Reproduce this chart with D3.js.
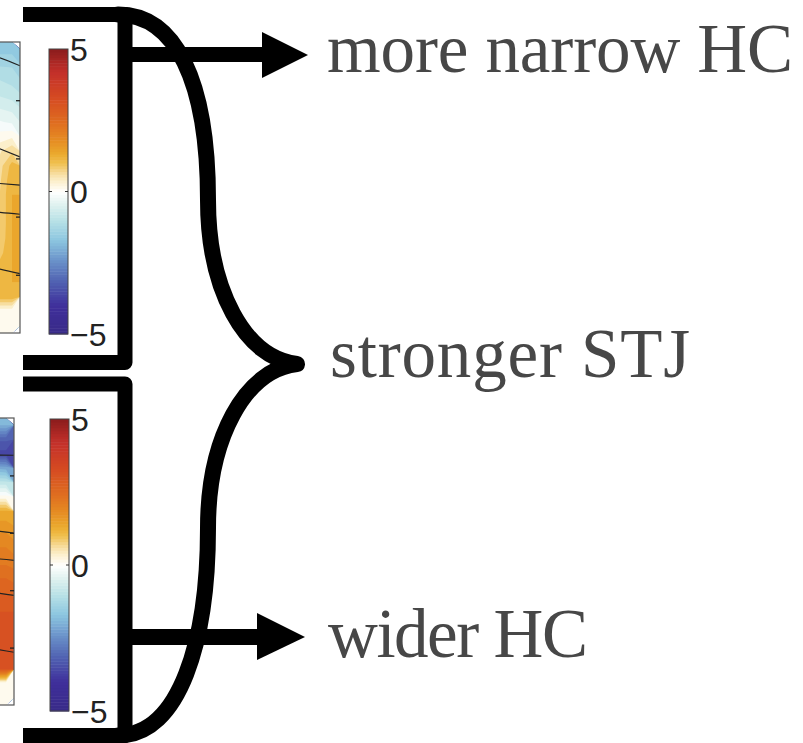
<!DOCTYPE html>
<html>
<head>
<meta charset="utf-8">
<script src="https://cdn.jsdelivr.net/npm/d3@7"></script>
<style>
  html, body { margin: 0; padding: 0; background: #fff; }
  svg { display: block; }
</style>
</head>
<body>
<svg id="fig" width="803" height="743"></svg>
<script>
// ---- colour map (anomaly, m/s) ----
const cbStops  = [-5, -4, -3.2, -2.4, -1.7, -1.0, -0.4, 0, 0.4, 0.7, 1.0, 1.3, 1.8, 2.5, 3.3, 4.2, 5];
const cbColors = ["#382a87", "#3f2f9b", "#4f5fb0", "#6b93ca", "#8cc6df", "#b9e2e6", "#e3f3f1", "#ffffff",
                  "#fbeec8", "#f6d893", "#f0c050", "#ebab2e", "#e58c22", "#de6a20", "#d54a22", "#c3302a", "#8b1c1c"];
const cbTicks  = [5, 0, -5];
const levelStep = 0.25;

// ---- vertical levels (hPa, band centres) ----
const levels = [25, 75, 125, 175, 225, 275, 325, 375, 425, 475, 525, 575, 625, 675, 725, 775, 825, 875, 925, 975];
const axisTicks = [200, 400, 600, 800];

// ---- filled field, upper panel: one row per level, three latitude columns ----
const fieldUpper = [
  [-1.6, -1.6, -1.6], [-1.3, -1.3, -1.3], [-1.0, -1.0, -1.1], [-0.8, -0.8, -0.9],
  [-0.5, -0.5, -0.6], [-0.2, -0.2, -0.3], [0.1, 0.1, 0.2],    [0.4, 0.4, 0.7],
  [0.5, 0.5, 1.1],    [0.55, 0.55, 1.2],  [0.6, 0.6, 1.25],   [0.6, 0.6, 1.25],
  [0.6, 0.6, 1.25],   [0.65, 0.65, 1.25], [0.8, 0.8, 1.25],   [1.0, 1.0, 1.25],
  [1.15, 1.15, 1.25], [1.2, 1.2, 1.2],    [0.05, 0.05, 0.05], [0.0, 0.0, 0.0]
];
// ---- filled field, lower panel ----
const fieldLower = [
  [-2.0, -2.0, -2.0], [-3.2, -3.2, -3.2], [-3.6, -3.6, -3.6], [-2.0, -2.0, -2.1],
  [-0.9, -0.9, -0.9], [0.1, 0.1, 0.1],    [1.3, 1.3, 1.3],    [1.6, 1.6, 1.6],
  [1.9, 1.9, 1.9],    [2.1, 2.1, 2.1],    [2.3, 2.3, 2.3],    [2.6, 2.6, 2.6],
  [2.8, 2.8, 2.8],    [3.0, 3.0, 3.0],    [3.1, 3.1, 3.1],    [3.1, 3.1, 3.1],
  [3.1, 3.1, 3.1],    [3.0, 3.0, 3.0],    [0.0, 0.0, 0.0],    [0.0, 0.0, 0.0]
];
// ---- climatology contour lines: pressure of each line at left edge, middle and right frame ----
const linesUpper = [[30, 50, 82], [330, 362, 395], [478, 485, 492], [574, 584, 592], [755, 777, 796]];
const linesLower = [[129, 129, 130], [375, 390, 401], [478, 488, 496], [592, 606, 618], [780, 801, 816]];

// ---- annotation labels ----
const labels = ["more narrow HC", "stronger STJ", "wider HC"];

// ---------------------------------------------------------------
const svg = d3.select("#fig");
const cmap = d3.scaleLinear().domain(cbStops).range(cbColors).clamp(true);
const thresholds = d3.range(-5, 5 + 1e-9, levelStep);

const panels = [
  { field: fieldUpper, lines: linesUpper, plot: { right: 20, top: 42, bottom: 333 },
    bar: { x: 49, w: 19, top: 49, bottom: 334 } },
  { field: fieldLower, lines: linesLower, plot: { right: 14, top: 418, bottom: 705 },
    bar: { x: 50, w: 19, top: 419, bottom: 711 } }
];

panels.forEach((P, k) => {
  const nCols = P.field[0].length, nRows = P.field.length;
  const px = P.plot;
  // column index -> pixels (left columns run off the page)
  const xg = d3.scaleLinear().domain([0, nCols]).range([px.right - 48, px.right]);
  const yP = d3.scaleLinear().domain([0, 1000]).range([px.top, px.bottom]);
  const yg = d3.scaleLinear().domain([0, nRows]).range([yP(0), yP(1000)]);

  const clipId = "clip" + k;
  svg.append("clipPath").attr("id", clipId)
    .append("rect").attr("x", -10).attr("y", px.top).attr("width", px.right + 10).attr("height", px.bottom - px.top);

  const g = svg.append("g").attr("clip-path", `url(#${clipId})`);
  g.append("rect").attr("x", -10).attr("y", px.top).attr("width", px.right + 10)
    .attr("height", px.bottom - px.top).attr("fill", "#fff");

  const values = P.field.flat();
  const contours = d3.contours().size([nCols, nRows]).thresholds(thresholds)(values);
  const proj = d3.geoTransform({ point(x, y) { this.stream.point(xg(x), yg(y)); } });
  const path = d3.geoPath(proj);
  g.selectAll("path.band").data(contours).join("path")
    .attr("class", "band")
    .attr("d", path)
    .attr("fill", d => cmap(d.value + levelStep / 2))
    .attr("stroke", "none");

  // climatology lines span the panel from its left edge to the right frame
  const lx = d3.scaleLinear().domain([0, 2]).range([xg(0), px.right]);
  const line = d3.line()
    .x((d, i) => lx(i))
    .y(d => yP(d))
    .curve(d3.curveMonotoneX);
  g.selectAll("path.clim").data(P.lines).join("path")
    .attr("class", "clim")
    .attr("d", line)
    .attr("fill", "none").attr("stroke", "#222").attr("stroke-width", 1.1);

  // frame and pressure ticks
  svg.append("rect").attr("x", -10).attr("y", px.top).attr("width", px.right + 10)
    .attr("height", px.bottom - px.top).attr("fill", "none").attr("stroke", "#555").attr("stroke-width", 1.2);
  const ax = svg.append("g").attr("transform", `translate(${px.right},0)`)
    .call(d3.axisLeft(yP).tickValues(axisTicks).tickSize(4).tickFormat(""));
  ax.select(".domain").remove();
  ax.selectAll("line").attr("stroke", "#222").attr("stroke-width", 1.3);

  // colour bar
  const B = P.bar;
  const yB = d3.scaleLinear().domain([-5, 5]).range([B.bottom, B.top]);
  const steps = d3.range(-5, 5, 0.1);
  svg.append("g").selectAll("rect").data(steps).join("rect")
    .attr("x", B.x).attr("width", B.w)
    .attr("y", d => yB(d + 0.1))
    .attr("height", d => yB(d) - yB(d + 0.1) + 0.5)
    .attr("fill", d => cmap(d + 0.05));
  svg.append("rect").attr("x", B.x).attr("y", B.top).attr("width", B.w).attr("height", B.bottom - B.top)
    .attr("fill", "none").attr("stroke", "#444").attr("stroke-width", 1);
  const zeroY = yB(0);
  svg.append("line").attr("x1", B.x).attr("x2", B.x + 3).attr("y1", zeroY).attr("y2", zeroY)
    .attr("stroke", "#333").attr("stroke-width", 1);
  svg.append("line").attr("x1", B.x + B.w - 3).attr("x2", B.x + B.w).attr("y1", zeroY).attr("y2", zeroY)
    .attr("stroke", "#333").attr("stroke-width", 1);
  svg.append("g").selectAll("text").data(cbTicks).join("text")
    .attr("x", B.x + B.w + 2)
    .attr("y", d => yB(d))
    .attr("dy", "0.36em")
    .attr("font-family", "Liberation Sans, Arial, sans-serif")
    .attr("font-size", 32)
    .attr("fill", "#222")
    .text(d => d < 0 ? "\u2212" + Math.abs(d) : String(d));
});

// ---- brackets, brace and arrows ----
const ink = "#000";
const ann = svg.append("g");
ann.append("path").attr("d", "M23,14.5H125V362.5H23")
  .attr("fill", "none").attr("stroke", ink).attr("stroke-width", 15).attr("stroke-linejoin", "round");
ann.append("path").attr("d", "M23,384H125V735.5H23")
  .attr("fill", "none").attr("stroke", ink).attr("stroke-width", 15).attr("stroke-linejoin", "round");
ann.append("path")
  .attr("d", "M118,14.5C175,14.5 208,80 208,200C208,290 245,358 297,364C245,370 208,438 208,528C208,640 180,735.5 118,735.5")
  .attr("fill", "none").attr("stroke", ink).attr("stroke-width", 16)
  .attr("stroke-linejoin", "round").attr("stroke-linecap", "round");

ann.append("line").attr("x1", 125).attr("x2", 265).attr("y1", 54.5).attr("y2", 54.5)
  .attr("stroke", ink).attr("stroke-width", 15);
ann.append("path").attr("d", "M262,32L308,55L262,78Z").attr("fill", ink);
ann.append("line").attr("x1", 125).attr("x2", 260).attr("y1", 637).attr("y2", 637)
  .attr("stroke", ink).attr("stroke-width", 16);
ann.append("path").attr("d", "M257,613L305,637L257,660Z").attr("fill", ink);

const labelPos = [
  { x: 327, y: 72, w: 466 },
  { x: 330, y: 377, w: 360 },
  { x: 328, y: 657, w: 260 }
];
svg.append("g").selectAll("text").data(labels).join("text")
  .attr("x", (d, i) => labelPos[i].x)
  .attr("y", (d, i) => labelPos[i].y)
  .attr("textLength", (d, i) => labelPos[i].w)
  .attr("lengthAdjust", "spacing")
  .attr("font-family", "Liberation Serif, Times New Roman, serif")
  .attr("font-size", 69)
  .attr("fill", "#474747")
  .text(d => d);
</script>
</body>
</html>
